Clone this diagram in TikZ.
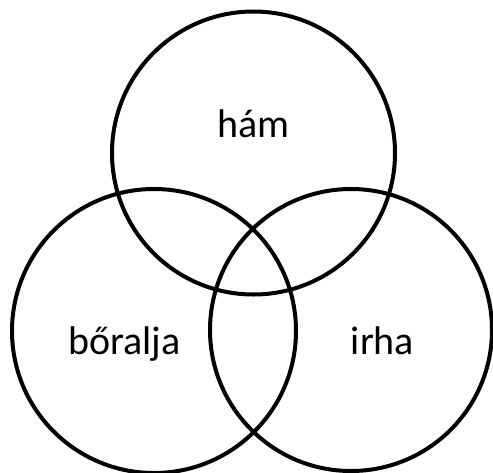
\documentclass[tikz,border=0pt]{standalone}
\usepackage{fontspec}
\setmainfont{Carlito}
\usetikzlibrary{positioning}

\begin{document}
\begin{tikzpicture}[x=1pt, y=-1pt,
      layer/.style={draw, circle, line width=4pt, inner sep=0pt},
      word/.style={anchor=base, font=\fontsize{40}{48}\selectfont}]
    \useasboundingbox (0,0) rectangle (493,472);
    \node[layer, minimum size=283pt] (hamkor) at (253.5,153) {};
    \node[layer, minimum size=284pt] (boraljakor) at (154,331) {};
    \node[layer, minimum size=282pt] (irhakor) at (351,330) {};
    \node[word] (ham) at (253.5,137) {hám};
    \node[word] (boralja) at (124.5,354) {bőralja};
    \node[word] (irha) at (382.5,354) {irha};
  \end{tikzpicture}
\end{document}
